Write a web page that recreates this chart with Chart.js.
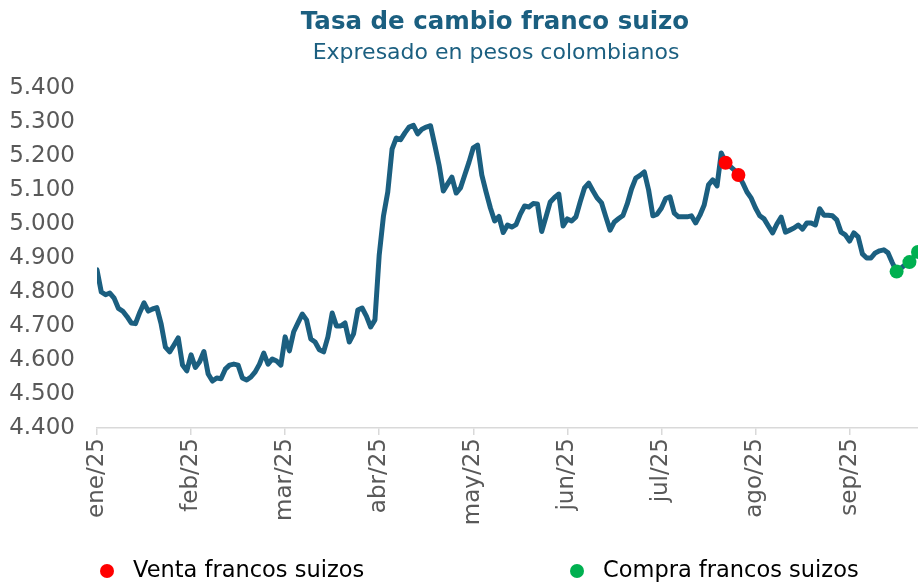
<!DOCTYPE html>
<html>
<head>
<meta charset="utf-8">
<script src="https://cdn.jsdelivr.net/npm/chart.js@4.4.1/dist/chart.umd.min.js"></script>
<style>
html,body{margin:0;padding:0;background:#ffffff;}
#wrap{width:918px;height:583px;position:relative;}
</style>
</head>
<body>
<div id="wrap"><canvas id="c" width="918" height="583"></canvas></div>
<script>
const titleText = 'Tasa de cambio franco suizo';
const subtitleText = 'Expresado en pesos colombianos';
const monthLabels = ['ene/25','feb/25','mar/25','abr/25','may/25','jun/25','jul/25','ago/25','sep/25'];
const monthTickIndex = [0,22,44,66,88,110,132,154,176];
const yTickValues = [4400,4500,4600,4700,4800,4900,5000,5100,5200,5300,5400];
const rate = [
4865,4800,4792,4797,4782,4752,4744,4728,4709,4707,
4740,4768,4744,4750,4754,4706,4638,4624,4644,4665,
4585,4568,4615,4578,4595,4625,4559,4538,4547,4545,
4573,4585,4588,4585,4547,4541,4550,4565,4588,4620,
4588,4603,4597,4585,4668,4627,4683,4709,4735,4718,
4662,4653,4630,4624,4668,4738,4700,4700,4709,4653,
4677,4747,4753,4729,4697,4718,4909,5024,5094,5220,
5253,5248,5268,5285,5290,5265,5279,5285,5289,5232,
5173,5097,5118,5138,5091,5106,5144,5182,5224,5232,
5144,5094,5047,5009,5022,4975,4997,4991,4998,5029,
5053,5050,5060,5059,4978,5021,5065,5078,5088,4994,
5015,5009,5021,5065,5106,5120,5097,5076,5062,5021,
4982,5006,5016,5025,5059,5103,5135,5143,5153,5100,
5024,5029,5047,5075,5080,5032,5021,5021,5021,5024,
5003,5026,5056,5115,5130,5112,5209,5180,5170,5159,
5144,5121,5094,5076,5047,5024,5015,4994,4974,5000,
5020,4976,4982,4988,4997,4985,5003,5003,4997,5045,
5026,5026,5024,5012,4976,4968,4950,4974,4962,4912,
4900,4900,4915,4921,4924,4915,4886,4860,4870,4880,
4888,4903,4918
];
const ventaIndex = [147,150];
const compraIndex = [187,190,192];
const seriesNames = ['Tasa de cambio','Venta francos suizos','Compra francos suizos'];

const lineColor = '#1b5f80';
const ventaColor = '#ff0000';
const compraColor = '#00b050';
const textGray = '#595959';
const titleColor = '#1b5f80';

const titlePlugin = {
  id: 'customTitle',
  afterDraw(chart) {
    const ctx = chart.ctx;
    ctx.save();
    ctx.fillStyle = titleColor;
    ctx.textAlign = 'center';
    ctx.textBaseline = 'middle';
    ctx.font = 'bold 24.5px "DejaVu Sans"';
    ctx.fillText(titleText, 495, 23);
    ctx.font = '22px "DejaVu Sans"';
    ctx.fillText(subtitleText, 496, 53);
    ctx.restore();
  }
};

const legendPlugin = {
  id: 'customLegend',
  afterDraw(chart) {
    const ctx = chart.ctx;
    const items = [
      {ds: 1, x: 107},
      {ds: 2, x: 577}
    ];
    ctx.save();
    ctx.textBaseline = 'middle';
    ctx.textAlign = 'left';
    ctx.font = '22.5px "DejaVu Sans"';
    items.forEach(it => {
      const ds = chart.data.datasets[it.ds];
      ctx.fillStyle = ds.backgroundColor;
      ctx.beginPath();
      ctx.arc(it.x, 571, 7, 0, Math.PI * 2);
      ctx.fill();
      ctx.fillStyle = '#000000';
      ctx.fillText(ds.label, it.x + 26, 571);
    });
    ctx.restore();
  }
};

new Chart(document.getElementById('c'), {
  type: 'line',
  data: {
    datasets: [
      {
        label: seriesNames[0],
        data: rate.map((v, i) => ({x: i, y: v})),
        borderColor: lineColor,
        backgroundColor: lineColor,
        borderWidth: 5,
        borderJoinStyle: 'round',
        borderCapStyle: 'round',
        pointRadius: 0,
        tension: 0,
        order: 2
      },
      {
        label: seriesNames[1],
        data: ventaIndex.map(i => ({x: i, y: rate[i]})),
        showLine: false,
        pointRadius: 7,
        pointBorderWidth: 0,
        backgroundColor: ventaColor,
        borderColor: ventaColor,
        order: 1
      },
      {
        label: seriesNames[2],
        data: compraIndex.map(i => ({x: i, y: rate[i]})),
        showLine: false,
        pointRadius: 7,
        pointBorderWidth: 0,
        backgroundColor: compraColor,
        borderColor: compraColor,
        order: 1
      }
    ]
  },
  options: {
    responsive: false,
    animation: false,
    layout: {autoPadding: false, padding: {top: 88, right: 0, bottom: 55, left: 0}},
    plugins: {
      legend: {display: false},
      title: {display: false},
      tooltip: {enabled: false}
    },
    scales: {
      x: {
        type: 'linear',
        min: 0,
        max: rate.length - 1,
        afterBuildTicks(scale) {
          scale.ticks = monthTickIndex.map(v => ({value: v}));
        },
        afterFit(scale) {
          scale.height = 100;
          scale.paddingRight = 0;
          scale.paddingLeft = 0;
        },
        ticks: {
          autoSkip: false,
          maxRotation: 90,
          minRotation: 90,
          padding: 3,
          color: textGray,
          font: {family: '"DejaVu Sans"', size: 23},
          callback(v) {
            const k = monthTickIndex.indexOf(v);
            return k >= 0 ? monthLabels[k] : '';
          }
        },
        grid: {
          display: true,
          drawOnChartArea: false,
          drawTicks: true,
          tickLength: 7,
          color: '#d9d9d9',
          lineWidth: 1.5
        },
        border: {display: true, color: '#d9d9d9', width: 1.5}
      },
      y: {
        type: 'linear',
        min: 4400,
        max: 5400,
        afterBuildTicks(scale) {
          scale.ticks = yTickValues.map(v => ({value: v}));
        },
        afterFit(scale) { scale.width = 97; },
        ticks: {
          padding: 22,
          color: textGray,
          font: {family: '"DejaVu Sans"', size: 23},
          callback(v) { return (v / 1000).toFixed(3); }
        },
        grid: {display: false, drawTicks: false, tickLength: 0},
        border: {display: false}
      }
    }
  },
  plugins: [titlePlugin, legendPlugin]
});
</script>
</body>
</html>
